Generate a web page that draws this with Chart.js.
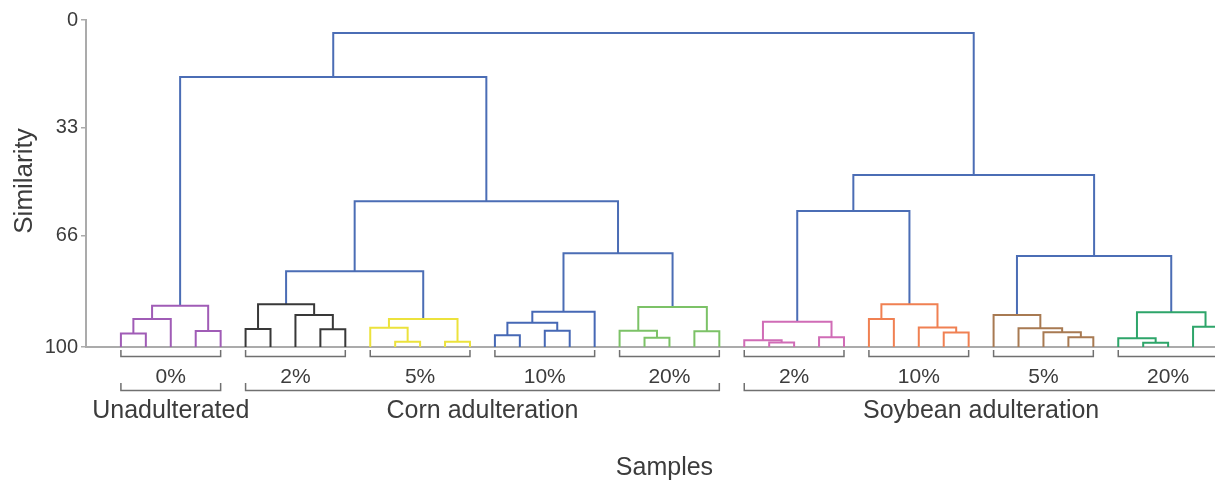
<!DOCTYPE html>
<html>
<head>
<meta charset="utf-8">
<script src="https://cdn.jsdelivr.net/npm/chart.js@4"></script>
<style>
  html, body { margin: 0; padding: 0; background: #fff; overflow: hidden; }
  #wrap { width: 1215px; height: 482px; position: relative; }
</style>
</head>
<body>
<div id="wrap"><canvas id="dendro"></canvas></div>
<script>
// leaf index 0..44, similarity heights (100 = leaf level)
// node format: [left, right, mergeHeight]
const g0 = [[[0, 1, 95.9], 2, 91.4], [3, 4, 95.1], 87.4];
const g1 = [[5, 6, 94.5], [7, [8, 9, 94.6], 90.2], 86.9];
const g2 = [[10, [11, 12, 98.4], 94.1], [13, 14, 98.4], 91.4];
const g3 = [[[15, 16, 96.4], [17, 18, 95.0], 92.6], 19, 89.2];
const g4 = [[20, [21, 22, 97.2], 95.0], [23, 24, 95.2], 87.8];
const g5 = [[25, [26, 27, 98.6], 97.9], [28, 29, 97.0], 92.3];
const g6 = [[30, 31, 91.4], [32, [33, 34, 95.6], 94.0], 86.9];
const g7 = [35, [36, [37, [38, 39, 97.0], 95.5], 94.3], 90.2];
const g8 = [[40, [41, 42, 98.7], 97.3], [43, 44, 93.8], 89.4];

const groupTrees = [g0, g1, g2, g3, g4, g5, g6, g7, g8];
const groupLabels = ['0%', '2%', '5%', '10%', '20%', '2%', '10%', '5%', '20%'];
const groupColors = ['#a05cb6', '#383838', '#ece23c', '#4668b5', '#7cc267',
                     '#d06cb6', '#f08052', '#a87a52', '#2ea56a'];
const linkColor = '#4b6db5';

const cornTree = [[g1, g2, 76.8], [g3, g4, 71.3], 55.4];
const soyTree = [[g5, g6, 58.4], [g7, g8, 72.2], 47.4];
const rootTree = [[g0, cornTree, 17.4], soyTree, 4.0];

const categoryLabels = ['Unadulterated', 'Corn adulteration', 'Soybean adulteration'];
const categoryFirst = [0, 5, 25];
const categoryLast = [4, 24, 44];

const yTicks = [0, 33, 66, 100];

const datasets = [];
function build(node, color) {
  if (typeof node === 'number') return { x: node, y: 100 };
  const gi = groupTrees.indexOf(node);
  if (gi >= 0) color = groupColors[gi];
  const L = build(node[0], color);
  const R = build(node[1], color);
  const h = node[2];
  datasets.push({
    data: [{ x: L.x, y: L.y }, { x: L.x, y: h }, { x: R.x, y: h }, { x: R.x, y: R.y }],
    showLine: true, borderColor: color, borderWidth: 2,
    pointRadius: 0, tension: 0, fill: false, clip: false
  });
  return { x: (L.x + R.x) / 2, y: h };
}
build(rootTree, linkColor);

const textColor = '#3c3c3c';
const FONT = '"Liberation Sans", Arial, sans-serif';

const labelsPlugin = {
  id: 'labels',
  afterDraw(chart) {
    const ctx = chart.ctx;
    const xs = chart.scales.x;
    ctx.save();
    ctx.strokeStyle = '#707070';
    ctx.lineWidth = 1.5;
    ctx.fillStyle = textColor;
    ctx.textAlign = 'center';
    ctx.textBaseline = 'middle';
    ctx.font = '21px ' + FONT;
    groupLabels.forEach((lab, i) => {
      const x1 = xs.getPixelForValue(i * 5);
      const x2 = xs.getPixelForValue(i * 5 + 4);
      ctx.beginPath();
      ctx.moveTo(x1, 350); ctx.lineTo(x1, 356.5); ctx.lineTo(x2, 356.5); ctx.lineTo(x2, 350);
      ctx.stroke();
      ctx.fillText(lab, (x1 + x2) / 2, 377);
    });
    ctx.font = '25px ' + FONT;
    categoryLabels.forEach((lab, i) => {
      const x1 = xs.getPixelForValue(categoryFirst[i]);
      const x2 = xs.getPixelForValue(categoryLast[i]);
      ctx.beginPath();
      ctx.moveTo(x1, 383); ctx.lineTo(x1, 390.5); ctx.lineTo(x2, 390.5); ctx.lineTo(x2, 383);
      ctx.stroke();
      ctx.fillText(lab, (x1 + x2) / 2, 411);
    });
    ctx.fillText('Samples', xs.getPixelForValue(21.8), 468);
    ctx.translate(25, 181);
    ctx.rotate(-Math.PI / 2);
    ctx.font = '26px ' + FONT;
    ctx.fillText('Similarity', 0, 0);
    ctx.restore();
  }
};

new Chart(document.getElementById('dendro'), {
  type: 'scatter',
  data: { datasets: datasets },
  plugins: [labelsPlugin],
  options: {
    responsive: true,
    maintainAspectRatio: false,
    animation: false,
    layout: { padding: { top: 20, bottom: 135, left: 0, right: 0 } },
    plugins: { legend: { display: false }, tooltip: { enabled: false } },
    scales: {
      x: {
        type: 'linear', min: -1.40, max: 43.88,
        ticks: { display: false },
        grid: { display: false },
        border: { display: true, color: '#ababab', width: 2 },
        afterFit(scale) { scale.height = 0; }
      },
      y: {
        type: 'linear', min: 0, max: 100, reverse: true,
        afterBuildTicks(scale) { scale.ticks = yTicks.map(v => ({ value: v })); },
        afterFit(scale) { scale.width = 86; },
        ticks: { color: textColor, font: { size: 20, family: FONT }, padding: 3 },
        grid: { display: true, drawOnChartArea: false, drawTicks: true, tickLength: 5, color: '#ababab', lineWidth: 1.5 },
        border: { display: true, color: '#ababab', width: 2 }
      }
    }
  }
});
</script>
</body>
</html>
